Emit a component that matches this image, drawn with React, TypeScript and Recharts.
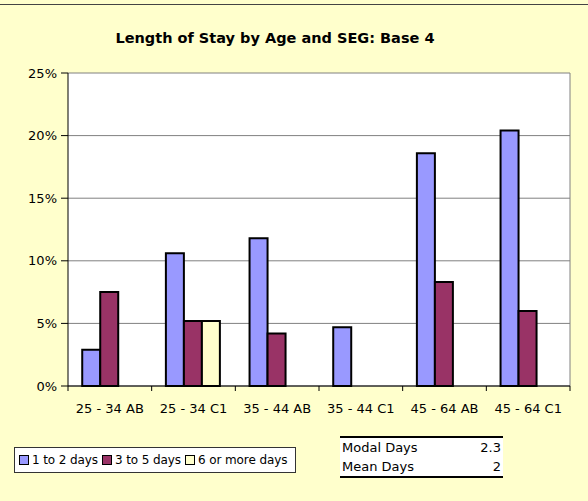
import React from 'react';
import { BarChart, Bar, XAxis, YAxis, CartesianGrid } from 'recharts';

const categories = ['25 - 34 AB', '25 - 34 C1', '35 - 44 AB', '35 - 44 C1', '45 - 64 AB', '45 - 64 C1'];
const oneToTwo = [2.9, 10.6, 11.8, 4.7, 18.6, 20.4];
const threeToFive = [7.5, 5.2, 4.2, null, 8.3, 6.0];
const sixOrMore = [null, 5.2, null, null, null, null];
const yTicks = [0, 5, 10, 15, 20, 25];
const series = [
    { key: 'a', name: '1 to 2 days', color: '#9999FF' },
    { key: 'b', name: '3 to 5 days', color: '#993366' },
    { key: 'c', name: '6 or more days', color: '#FFFFCC' },
];
const stats = [
    { label: 'Modal Days', value: '2.3' },
    { label: 'Mean Days', value: '2' },
];

const data = categories.map((c, i) => ({
    cat: c,
    a: oneToTwo[i],
    b: threeToFive[i],
    c: sixOrMore[i],
}));

const W = 588;
const H = 501;
const LEFT = 68;
const RIGHT = 18;
const TOP = 73;
const BOTTOM = 115;
const BAND = (W - LEFT - RIGHT) / categories.length;
const FONT = '"DejaVu Sans", Verdana, sans-serif';

function XTick(props: any) {
    const { x, y, payload, index } = props;
    return (
        <g>
            <line x1={x - BAND / 2} x2={x - BAND / 2} y1={y} y2={y + 5} stroke="#000" />
            {index === categories.length - 1 && (
                <line x1={x + BAND / 2} x2={x + BAND / 2} y1={y} y2={y + 5} stroke="#000" />
            )}
            <text x={x} y={y + 27} textAnchor="middle" fontSize={13} fontFamily={FONT} fill="#000">
                {payload.value}
            </text>
        </g>
    );
}

export default function App() {
    return (
        <div style={{ position: 'fixed', left: 0, top: 0, width: W, height: H, background: '#FFFFCC', overflow: 'hidden' }}>
            <div style={{ position: 'absolute', left: 0, top: 4, width: W, borderTop: '1.5px solid #444' }} />
            <div style={{
                position: 'absolute', left: 0, top: 30, width: 550, textAlign: 'center',
                fontFamily: FONT, fontWeight: 'bold', fontSize: 14.5, color: '#000',
            }}>
                Length of Stay by Age and SEG: Base 4
            </div>
            <BarChart
                width={W}
                height={H}
                data={data}
                margin={{ top: TOP, right: RIGHT, left: 8, bottom: BOTTOM - 30 }}
                barGap={0}
                barCategoryGap="17%"
                style={{ position: 'absolute', left: 0, top: 0 }}
            >
                <CartesianGrid
                    fill="#fff"
                    stroke="#808080"
                    vertical={true}
                    verticalCoordinatesGenerator={({ offset }: any) => [offset.left + offset.width]}
                />
                <XAxis
                    dataKey="cat"
                    height={30}
                    stroke="#000"
                    tickLine={false}
                    tickSize={0}
                    tickMargin={0}
                    interval={0}
                    tick={<XTick />}
                />
                <YAxis
                    width={60}
                    domain={[0, 25]}
                    ticks={yTicks}
                    tickFormatter={(v: number) => `${v}%`}
                    stroke="#000"
                    tickSize={7}
                    tickMargin={4}
                    tick={{ fill: '#000', fontSize: 13, fontFamily: FONT }}
                    interval={0}
                />
                {series.map(s => (
                    <Bar key={s.key} dataKey={s.key} name={s.name} fill={s.color} stroke="#000" strokeWidth={2} isAnimationActive={false} />
                ))}
            </BarChart>
            <div style={{
                position: 'absolute', left: 14, top: 447, width: 276, height: 24,
                border: '1px solid #333', background: '#fff', display: 'flex',
                alignItems: 'center', fontFamily: FONT, fontSize: 12, paddingLeft: 4,
                whiteSpace: 'nowrap', letterSpacing: -0.1,
            }}>
                {series.map(s => (
                    <span key={s.key} style={{ display: 'flex', alignItems: 'center', marginRight: 4 }}>
                        <span style={{
                            display: 'inline-block', width: 8, height: 8, background: s.color,
                            border: '1.5px solid #000', marginRight: 3, flexShrink: 0,
                        }} />
                        {s.name}
                    </span>
                ))}
            </div>
            <div style={{
                position: 'absolute', left: 340, top: 436, width: 163,
                borderTop: '2.5px solid #000', borderBottom: '2.5px solid #000',
                background: '#fff', fontFamily: FONT, fontSize: 13, lineHeight: '19px',
            }}>
                {stats.map(s => (
                    <div key={s.label} style={{ display: 'flex', justifyContent: 'space-between', padding: '0 2px 0 2px' }}>
                        <span>{s.label}</span>
                        <span>{s.value}</span>
                    </div>
                ))}
            </div>
        </div>
    );
}
